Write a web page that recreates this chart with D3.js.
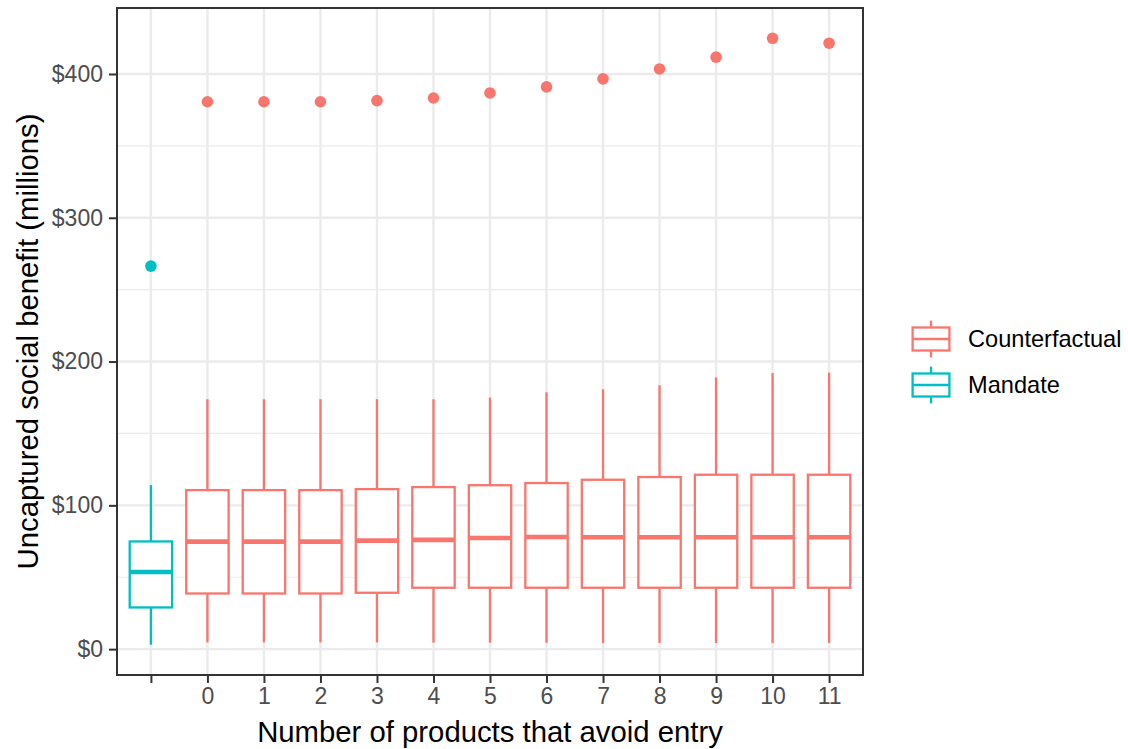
<!DOCTYPE html>
<html>
<head>
<meta charset="utf-8">
<script src="https://cdn.jsdelivr.net/npm/d3@7"></script>
<style>
  body { margin: 0; background: #fff; }
  svg { display: block; font-family: "Liberation Sans", Arial, sans-serif; }
</style>
</head>
<body>
<svg id="chart" width="1128" height="749"></svg>
<script>
// Categories on the x axis (first one is the mandate, shown with a blank label)
const categories = ["M", "0", "1", "2", "3", "4", "5", "6", "7", "8", "9", "10", "11"];
const tickLabels = ["", "0", "1", "2", "3", "4", "5", "6", "7", "8", "9", "10", "11"];
const groups = ["Mandate", "Counterfactual", "Counterfactual", "Counterfactual", "Counterfactual",
  "Counterfactual", "Counterfactual", "Counterfactual", "Counterfactual", "Counterfactual",
  "Counterfactual", "Counterfactual", "Counterfactual"];

// Box statistics (millions of dollars)
const lowerWhisker = [3.1, 4.7, 4.7, 4.7, 4.7, 4.5, 4.5, 4.5, 4.3, 4.3, 4.3, 4.3, 4.3];
const q1 = [29.0, 38.7, 38.7, 38.7, 39.2, 42.7, 42.7, 42.7, 42.7, 42.7, 42.7, 42.7, 42.7];
const median = [53.6, 74.8, 74.8, 74.8, 75.5, 76.0, 77.3, 78.0, 77.8, 77.8, 77.8, 77.8, 77.8];
const q3 = [74.9, 110.6, 110.6, 110.6, 111.3, 112.7, 114.0, 115.5, 117.8, 119.7, 121.3, 121.3, 121.3];
const upperWhisker = [114.1, 173.8, 173.8, 173.8, 173.8, 173.8, 175.0, 178.6, 180.7, 183.5, 189.0, 192.0, 192.3];
const outliers = [266.4, 380.7, 380.7, 380.7, 381.5, 383.3, 386.8, 391.0, 396.6, 403.5, 411.7, 424.8, 421.4];

const yTicks = [0, 100, 200, 300, 400];
const yMinor = [50, 150, 250, 350];
const legendItems = ["Counterfactual", "Mandate"];

const colors = { Counterfactual: "#F8766D", Mandate: "#00BFC4" };

const rows = categories.map((c, i) => ({
  cat: c, group: groups[i], lw: lowerWhisker[i], q1: q1[i], med: median[i],
  q3: q3[i], uw: upperWhisker[i], out: outliers[i]
}));

const svg = d3.select("#chart");
const panel = { left: 117, right: 863, top: 8, bottom: 675 };

// y domain with 5% expansion like ggplot
const lo = d3.min(rows, d => d.lw), hi = d3.max(rows, d => d.out);
const pad = (hi - lo) * 0.05;
const y = d3.scaleLinear().domain([lo - pad, hi + pad]).range([panel.bottom, panel.top]);
const x = d3.scalePoint().domain(categories).range([panel.left, panel.right]).padding(0.6);
const boxW = x.step() * 0.75;

svg.append("rect").attr("width", 1128).attr("height", 749).attr("fill", "#fff");

// grid
const grid = svg.append("g");
grid.selectAll("line.minor").data(yMinor).join("line")
  .attr("x1", panel.left).attr("x2", panel.right)
  .attr("y1", d => y(d)).attr("y2", d => y(d))
  .attr("stroke", "#EBEBEB").attr("stroke-width", 1.2);
grid.selectAll("line.majy").data(yTicks).join("line")
  .attr("x1", panel.left).attr("x2", panel.right)
  .attr("y1", d => y(d)).attr("y2", d => y(d))
  .attr("stroke", "#EBEBEB").attr("stroke-width", 2.4);
grid.selectAll("line.majx").data(categories).join("line")
  .attr("x1", d => x(d)).attr("x2", d => x(d))
  .attr("y1", panel.top).attr("y2", panel.bottom)
  .attr("stroke", "#EBEBEB").attr("stroke-width", 2.4);

// boxes
const boxes = svg.append("g").selectAll("g").data(rows).join("g")
  .attr("stroke", d => colors[d.group]).attr("fill", "none");
boxes.append("line")
  .attr("x1", d => x(d.cat)).attr("x2", d => x(d.cat))
  .attr("y1", d => y(d.q3)).attr("y2", d => y(d.uw)).attr("stroke-width", 2.3);
boxes.append("line")
  .attr("x1", d => x(d.cat)).attr("x2", d => x(d.cat))
  .attr("y1", d => y(d.q1)).attr("y2", d => y(d.lw)).attr("stroke-width", 2.3);
boxes.append("rect")
  .attr("x", d => x(d.cat) - boxW / 2).attr("width", boxW)
  .attr("y", d => y(d.q3)).attr("height", d => y(d.q1) - y(d.q3))
  .attr("fill", "#fff").attr("stroke-width", 2.3);
boxes.append("line")
  .attr("x1", d => x(d.cat) - boxW / 2).attr("x2", d => x(d.cat) + boxW / 2)
  .attr("y1", d => y(d.med)).attr("y2", d => y(d.med)).attr("stroke-width", 4.6);
boxes.append("circle")
  .attr("cx", d => x(d.cat)).attr("cy", d => y(d.out)).attr("r", 5.8)
  .attr("stroke", "none").attr("fill", d => colors[d.group]);

// panel border
svg.append("rect")
  .attr("x", panel.left).attr("y", panel.top)
  .attr("width", panel.right - panel.left).attr("height", panel.bottom - panel.top)
  .attr("fill", "none").attr("stroke", "#333333").attr("stroke-width", 2);

// axes
const yAxis = svg.append("g").attr("transform", `translate(${panel.left - 1},0)`)
  .call(d3.axisLeft(y).tickValues(yTicks).tickFormat(d => "$" + d).tickSize(7).tickPadding(6));
const xAxis = svg.append("g").attr("transform", `translate(0,${panel.bottom + 1})`)
  .call(d3.axisBottom(x).tickFormat((d, i) => tickLabels[i]).tickSize(7).tickPadding(5));
[yAxis, xAxis].forEach(a => {
  a.select(".domain").remove();
  a.selectAll(".tick line").attr("stroke", "#333333").attr("stroke-width", 2);
  a.selectAll(".tick text").attr("fill", "#4D4D4D")
    .style("font-size", "23px").style("font-family", "'Liberation Sans', Arial, sans-serif");
});

// axis titles
svg.append("text")
  .attr("x", (panel.left + panel.right) / 2).attr("y", 742)
  .attr("text-anchor", "middle").attr("font-size", 29.3).attr("fill", "#000")
  .text("Number of products that avoid entry");
svg.append("text")
  .attr("transform", `translate(38,${(panel.top + panel.bottom) / 2}) rotate(-90)`)
  .attr("text-anchor", "middle").attr("font-size", 29.3).attr("fill", "#000")
  .text("Uncaptured social benefit (millions)");

// legend
const keySize = 46;
const legend = svg.append("g").attr("transform", "translate(908,316)");
const items = legend.selectAll("g").data(legendItems).join("g")
  .attr("transform", (d, i) => `translate(0,${i * keySize})`)
  .attr("stroke", d => colors[d]).attr("fill", "none").attr("stroke-width", 2.3);
items.append("line").attr("x1", keySize / 2).attr("x2", keySize / 2)
  .attr("y1", keySize * 0.1).attr("y2", keySize * 0.25);
items.append("line").attr("x1", keySize / 2).attr("x2", keySize / 2)
  .attr("y1", keySize * 0.75).attr("y2", keySize * 0.9);
items.append("rect").attr("x", keySize * 0.1).attr("y", keySize * 0.25)
  .attr("width", keySize * 0.8).attr("height", keySize * 0.5).attr("fill", "#fff");
items.append("line").attr("x1", keySize * 0.1).attr("x2", keySize * 0.9)
  .attr("y1", keySize * 0.5).attr("y2", keySize * 0.5);
items.append("text")
  .attr("x", 60).attr("y", keySize / 2).attr("dy", "0.36em")
  .attr("stroke", "none").attr("fill", "#000").attr("font-size", 23.6)
  .text(d => d);
</script>
</body>
</html>
